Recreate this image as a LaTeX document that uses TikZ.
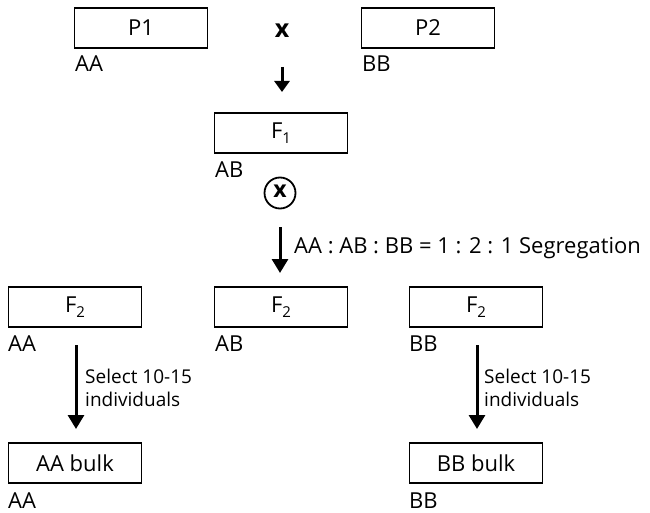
\documentclass[tikz,border=0pt]{standalone}
\usepackage{fontspec}
\setmainfont{Open Sans}
\usetikzlibrary{arrows.meta}
\tikzset{
  box/.style={draw, line width=1.7pt, minimum width=133pt, minimum height=40pt, inner sep=0pt, font=\fontsize{22}{22}\selectfont},
  lab/.style={anchor=base west, inner sep=0pt, font=\fontsize{22}{22}\selectfont},
  note/.style={anchor=base west, inner sep=0pt, font=\fontsize{19}{19}\selectfont},
  arr/.style={line width=3pt, -{Triangle[length=14pt,width=16pt]}},
  sarr/.style={line width=3pt, -{Triangle[length=11pt,width=15pt]}}
}
\newcommand{\Fsub}[1]{F\raisebox{-0.4ex}{\fontsize{15}{15}\selectfont #1}}
\begin{document}
\begin{tikzpicture}[x=1pt,y=-1pt]
\useasboundingbox (0,0) rectangle (650,513);
% top row
\node[box] (p1) at (141,28) {P1};
\node[box] (p2) at (428,28) {P2};
\node[lab] (p1l) at (75,72) {AA};
\node[lab] (p2l) at (362,72) {BB};
\node[font=\fontsize{25}{25}\selectfont\bfseries, inner sep=0pt] (cross) at (282,31) {x};
\coordinate (a1s) at (282,67);
\coordinate (a1e) at (282,92);
\draw[sarr] (a1s) -- (a1e);
% F1
\node[box] (f1) at (281,133) {\Fsub{1}};
\node[lab] (f1l) at (215,178) {AB};
\node[draw, circle, line width=1.8pt, minimum size=31pt, inner sep=0pt, font=\fontsize{23}{23}\selectfont\bfseries] (self) at (280,193) {\raisebox{0.3ex}{x}};
\coordinate (a2s) at (280,227);
\coordinate (a2e) at (280,273);
\draw[arr] (a2s) -- (a2e);
\node[lab] (seg) at (294,253) {AA : AB : BB = 1 : 2 : 1 Segregation};
% F2 row
\node[box] (f2a) at (75,307) {\Fsub{2}};
\node[box] (f2b) at (281,307) {\Fsub{2}};
\node[box] (f2c) at (476,307) {\Fsub{2}};
\node[lab] (f2al) at (8,351) {AA};
\node[lab] (f2bl) at (215,351) {AB};
\node[lab] (f2cl) at (409,351) {BB};
% bulks
\node[box] (ba) at (75,463) {AA bulk};
\node[box] (bb) at (476,463) {BB bulk};
\node[lab] (bal) at (8,508) {AA};
\node[lab] (bbl) at (409,508) {BB};
% arrows with notes
\coordinate (la) at (76,345);
\coordinate (lb) at (76,429);
\draw[arr] (la) -- (lb);
\node[note] (n1) at (85,383) {Select 10-15};
\node[note] (n2) at (85,406) {individuals};
\coordinate (ra) at (477,345);
\coordinate (rb) at (477,429);
\draw[arr] (ra) -- (rb);
\node[note] (n3) at (484,383) {Select 10-15};
\node[note] (n4) at (484,406) {individuals};
\end{tikzpicture}
\end{document}
